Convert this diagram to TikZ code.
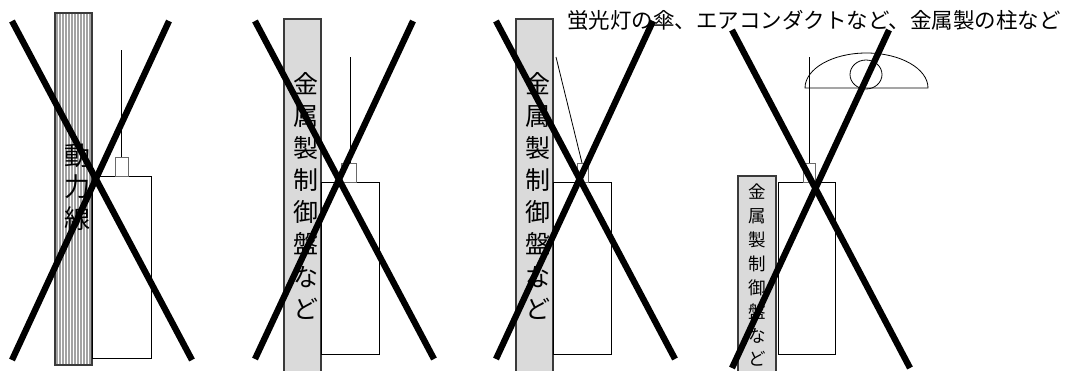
\documentclass[tikz,border=0pt]{standalone}
\usepackage{fontspec}
\newfontfamily\jpfont{Noto Sans CJK JP}
\definecolor{rim}{HTML}{3A3A3A}
\definecolor{hatch}{HTML}{A2A2A2}
\definecolor{dotfill}{HTML}{DADADA}
\definecolor{capline}{HTML}{6A6A6A}
\tikzset{
  cross/.style={draw=black, line width=6.3pt},
  strip/.style={draw=rim, line width=1.1pt},
  dotstrip/.style={strip, fill=dotfill},
  panelbox/.style={draw=black, line width=0.8pt},
  capbox/.style={draw=capline, line width=0.8pt},
  wire/.style={draw=black, line width=0.8pt},
  vchar/.style={font=\jpfont\fontsize{25}{25}\selectfont, inner sep=0pt,
    text height=20.8pt, text depth=2pt},
  vsmall/.style={font=\jpfont\fontsize{17.5}{17.5}\selectfont, inner sep=0pt,
    text height=14.6pt, text depth=1.4pt},
  note/.style={font=\jpfont\fontsize{21.5}{21.5}\selectfont, inner sep=0pt}
}

\begin{document}
\begin{tikzpicture}[x=1pt, y=-1pt]
  \useasboundingbox (0,0) rectangle (1067,370);
  \clip (0,0) rectangle (1067,370);

  % --- 1: power line strip ---
  \foreach \x in {57,60,...,90}
    \draw[hatch, line width=2pt] (\x,13) -- (\x,365);
  \draw[strip] (55,13) rectangle (92,365);
  \foreach \ch [count=\i] in {動,力,線}
    \node[vchar, font=\jpfont\fontsize{26}{26}\selectfont] (p1-\i) at (77,{156+31.5*\i-31.5}) {\ch};
  \draw[panelbox] (92,176) rectangle (151,358);
  \draw[capbox] (115,157) rectangle (128,176);
  \draw[wire] (121,157) -- (121,50);
  \draw[cross] (12,21) -- (192,360);
  \draw[cross] (169,21) -- (12,360);

  % --- 2: metal panel beside ---
  \draw[dotstrip] (284,19) rectangle (321,375);
  \foreach \ch [count=\i] in {金,属,製,制,御,盤,な,ど}
    \node[vchar] (p2-\i) at (306,{84+32.1*\i-32.1}) {\ch};
  \draw[panelbox] (321,182) rectangle (379,354);
  \draw[capbox] (341,163) rectangle (356,182);
  \draw[wire] (350,163) -- (350,57);
  \draw[cross] (255,21) -- (434,359);
  \draw[cross] (413,21) -- (255,359);

  % --- 3: antenna leaning on the panel ---
  \draw[dotstrip] (516,19) rectangle (553,375);
  \foreach \ch [count=\i] in {金,属,製,制,御,盤,な,ど}
    \node[vchar] (p3-\i) at (538,{84+32.1*\i-32.1}) {\ch};
  \draw[panelbox] (553,182) rectangle (611,354);
  \draw[capbox] (577,163) rectangle (588,182);
  \draw[wire] (582,163) -- (556,57);
  \draw[cross] (496,21) -- (675,359);
  \draw[cross] (653,21) -- (496,359);

  \node[note, anchor=base west] (metal) at (567,28.5)
    {蛍光灯の傘、エアコンダクトなど、金属製の柱など};

  % --- 4: lamp shade above, low panel beside ---
  \draw[dotstrip] (738,176) rectangle (776,375);
  \foreach \ch [count=\i] in {金,属,製,制,御,盤,な,ど}
    \node[vsmall] (p4-\i) at (757,{192+23.9*\i-23.9}) {\ch};
  \draw[panelbox] (778,182) rectangle (835,354);
  \draw[capbox] (803,163) rectangle (815,182);
  \draw[wire] (809,163) -- (809,57);
  \draw[wire] (805,88) arc[start angle=180, end angle=360, x radius=61.5, y radius=35] -- cycle;
  \draw[wire] (866,74.5) ellipse[x radius=16, y radius=14.5];
  \draw[cross] (732,30) -- (910,368);
  \draw[cross] (889,30) -- (732,368);
\end{tikzpicture}
\end{document}
